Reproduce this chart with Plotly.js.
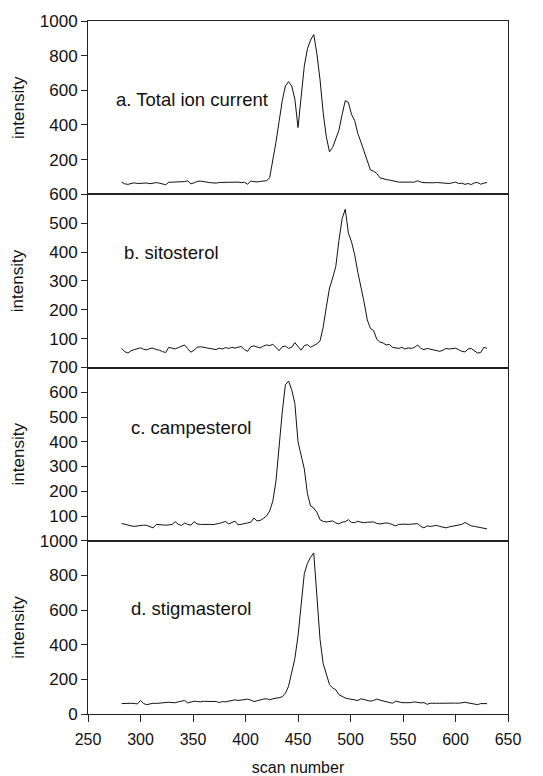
<!DOCTYPE html>
<html>
<head>
<meta charset="utf-8">
<script src="https://cdn.plot.ly/plotly-3.0.1.min.js"></script>
<style>html,body{margin:0;padding:0;background:#fff;}#chart{width:543px;height:776px;}</style>
</head>
<body>
<div id="chart"></div>
<script>
// scan numbers (every 3rd scan)
const scanStart = 282, scanStep = 3;
const totalIon = [70,60,57,63,66,62,64,67,65,61,64,67,64,60,55,69,70,68,69,71,73,77,60,66,74,76,72,70,67,66,64,68,69,70,68,71,69,70,67,69,58,76,73,71,74,75,78,95,190,300,420,540,625,650,625,550,385,570,740,840,890,922,810,660,470,330,245,270,320,370,460,540,530,460,425,350,300,250,190,140,133,120,95,88,85,82,78,72,70,70,70,70,70,70,78,70,67,66,63,66,68,67,67,65,62,66,70,62,64,57,62,56,66,68,58,64,68];
const sitosterol = [66,55,50,58,62,65,68,63,61,66,67,62,60,55,52,70,66,64,69,73,78,65,53,60,70,72,71,68,66,65,62,67,64,69,66,70,67,70,73,62,56,72,75,71,68,74,78,76,80,70,58,72,74,66,70,86,72,60,76,79,70,75,82,92,140,210,275,310,350,440,515,548,465,435,390,330,280,225,165,135,128,98,88,85,78,80,70,68,66,70,64,68,66,70,78,66,62,66,64,62,60,56,60,66,64,66,67,62,56,54,64,66,58,50,52,70,66];
const campesterol = [70,66,63,60,58,60,62,63,62,58,52,66,64,65,63,64,66,77,66,62,72,66,63,77,68,66,67,68,66,65,66,70,74,78,68,72,79,64,66,70,72,75,92,80,82,90,100,120,160,240,390,520,630,645,610,555,400,345,290,190,140,132,115,85,78,76,78,80,72,68,75,77,85,74,73,79,75,73,75,77,76,70,68,70,72,70,64,60,66,68,67,66,68,70,69,58,52,60,58,60,62,58,55,52,56,58,60,62,66,74,66,60,58,56,54,50,48];
const stigmasterol = [60,62,63,62,61,58,78,60,54,60,62,61,63,64,67,68,66,65,70,72,78,64,70,74,72,70,73,72,75,73,72,66,72,70,74,80,82,78,80,84,86,80,72,76,82,86,88,82,88,90,94,100,120,160,250,320,450,650,810,870,905,930,680,430,290,230,170,150,140,112,100,92,88,85,80,78,88,84,80,74,78,86,80,76,72,68,62,74,68,66,65,64,66,70,65,64,66,56,62,60,62,62,63,64,62,62,63,62,64,68,64,60,58,54,60,62,60];
const scans = totalIon.map((_, i) => scanStart + i * scanStep);

const panelLabels = ["a. Total ion current", "b. sitosterol", "c. campesterol", "d. stigmasterol"];
const panelSeries = [totalIon, sitosterol, campesterol, stigmasterol];
const panelTicks = [[200,400,600,800,1000],[100,200,300,400,500,600],[100,200,300,400,500,600,700],[0,200,400,600,800,1000]];
const panelRanges = [[0,1000],[0,600],[0,700],[0,1000]];
const labelPos = [[274.5,547],[282,400],[289,457],[289,609]];
const xTicks = [250,300,350,400,450,500,550,600,650];

// panel a -> axes 4 (top), d -> axes 1 (bottom)
const ids = ["4","3","2",""];
const domains = [[0.75,1],[0.5,0.75],[0.25,0.5],[0,0.25]];
const font = "Liberation Sans, Arial, sans-serif";
const lineCol = "#222";

const traces = panelSeries.map((s, i) => ({
  x: scans, y: s, type: "scatter", mode: "lines",
  xaxis: "x" + ids[i], yaxis: "y" + ids[i],
  line: {color: "#111", width: 1}, showlegend: false, hoverinfo: "skip"
}));

const layout = {
  width: 543, height: 776,
  margin: {l: 88, r: 35, t: 21, b: 62},
  paper_bgcolor: "#fff", plot_bgcolor: "#fff",
  font: {family: font, size: 16, color: "#111"},
  showlegend: false,
  annotations: []
};

panelSeries.forEach((s, i) => {
  const id = ids[i];
  const isBottom = id === "";
  layout["xaxis" + id] = {
    range: [250, 650], anchor: "y" + id,
    showline: true, mirror: true, linecolor: lineCol, linewidth: 1,
    showgrid: false, zeroline: false,
    tickvals: xTicks, ticks: isBottom ? "outside" : "", ticklen: 7, tickcolor: lineCol,
    showticklabels: isBottom, ticklabelstandoff: 4,
    tickfont: {size: 16, family: font, color: "#111"},
    fixedrange: true
  };
  if (!isBottom) layout["xaxis" + id].matches = "x";
  if (isBottom) layout.xaxis.title = {text: "scan number", font: {size: 16, family: font, color: "#111"}, standoff: 16};
  layout["yaxis" + id] = {
    domain: domains[i], range: panelRanges[i], anchor: "x" + id,
    showline: true, mirror: true, linecolor: lineCol, linewidth: 1,
    showgrid: false, zeroline: false,
    tickvals: panelTicks[i], ticks: "outside", ticklen: 6, tickcolor: lineCol,
    tickfont: {size: 17, family: font, color: "#111"},
    fixedrange: true
  };
  layout.annotations.push({
    text: panelLabels[i], xref: "x" + id, yref: "y" + id,
    x: labelPos[i][0], y: labelPos[i][1], xanchor: "left", yanchor: "middle",
    showarrow: false, font: {size: 18.5, family: font, color: "#111"}
  });
  layout.annotations.push({
    text: "intensity", xref: "paper", yref: "paper",
    x: -0.166, y: (domains[i][0] + domains[i][1]) / 2, xanchor: "center", yanchor: "middle",
    textangle: -90, showarrow: false, font: {size: 17, family: font, color: "#111"}
  });
});

Plotly.newPlot("chart", traces, layout, {displayModeBar: false, staticPlot: true});
</script>
</body>
</html>
